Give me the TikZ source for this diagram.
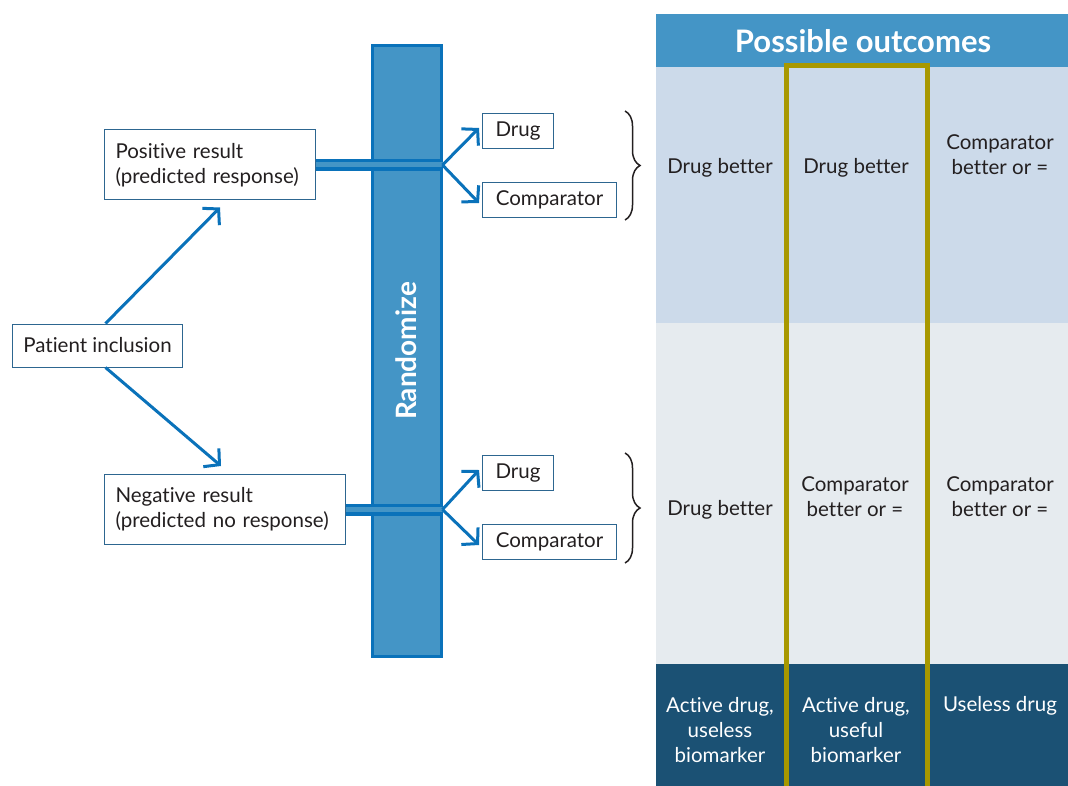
\documentclass[tikz,border=0pt]{standalone}
\usepackage{fontspec}
\setmainfont{Lato}[Ligatures=NoCommon]
\usetikzlibrary{arrows.meta,decorations.pathreplacing,positioning}
\definecolor{arrowblue}{HTML}{0A72BA}
\definecolor{barblue}{HTML}{4495C6}
\definecolor{boxline}{HTML}{2D6690}
\definecolor{rowone}{HTML}{CCDAEA}
\definecolor{rowtwo}{HTML}{E6EBEF}
\definecolor{rowdark}{HTML}{1B5174}
\definecolor{gold}{HTML}{A89800}
\definecolor{ink}{HTML}{231F20}
\begin{document}
\begin{tikzpicture}[x=1pt,y=-1pt,
    font=\fontsize{20.5}{25}\selectfont, text=ink,
    box/.style={draw=boxline, line width=1pt, fill=white, inner xsep=11pt, minimum height=35pt},
    twoline/.style={box, align=left, anchor=west, minimum height=70pt},
    bar/.style={fill=barblue, draw=arrowblue, line width=3pt, text=white,
      font=\fontsize{28}{32}\selectfont\bfseries},
    arm/.style={arrowblue, line width=3pt, -{Straight Barb[length=11pt,width=24pt]}},
    feed/.style={draw=arrowblue, double=barblue, double distance=5pt, line width=3.5pt},
    brace/.style={decorate, decoration={brace, amplitude=15pt}, line width=1.5pt, draw=ink},
    cell/.style={align=center}]
  \useasboundingbox (0,0) rectangle (1068,786);
  \fill[barblue] (656,14) rectangle (1068,67);
  \fill[rowone] (656,67) rectangle (1068,323);
  \fill[rowtwo] (656,323) rectangle (1068,664);
  \fill[rowdark] (656,664) rectangle (1068,786);
  \node[text=white, font=\fontsize{31}{34}\selectfont\bfseries] (head) at (863,41) {Possible outcomes};
  \node[cell] (c11) at (720,168) {Drug better};
  \node[cell] (c12) at (856,168) {Drug better};
  \node[cell] (c13) at (1000,155) {Comparator\\better or =};
  \node[cell] (c21) at (720,510) {Drug better};
  \node[cell] (c22) at (855,497) {Comparator\\better or =};
  \node[cell] (c23) at (1000,497) {Comparator\\better or =};
  \node[cell, text=white] (c31) at (720,730) {Active drug,\\useless\\biomarker};
  \node[cell, text=white] (c32) at (856,730) {Active drug,\\useful\\biomarker};
  \node[cell, text=white] (c33) at (1000,706) {Useless drug};
  \draw[gold, line width=5pt] (786.5,790) -- (786.5,65.5) -- (927,65.5) -- (927,790);
  \node[bar, rotate=90, minimum width=610pt, minimum height=69pt] (rand) at (406.5,351) {Randomize};
  \node[box, minimum width=169pt, minimum height=43pt] (incl) at (97.5,345.5) {Patient inclusion};
  \node[twoline, text width=189pt] (pos) at (104,165) {Positive result\\(predicted response)};
  \node[twoline, text width=219pt] (neg) at (104,509.5) {Negative result\\(predicted no response)};
  \node[box, anchor=west, minimum width=71pt] (drugA) at (482,131) {Drug};
  \node[box, anchor=west, minimum width=134pt] (compA) at (482,200) {Comparator};
  \node[box, anchor=west, minimum width=71pt] (drugB) at (482,473) {Drug};
  \node[box, anchor=west, minimum width=134pt] (compB) at (482,542) {Comparator};
  \coordinate (splitA) at (rand.south |- pos.east);
  \coordinate (splitB) at (rand.south |- neg.east);
  \draw[arm] ([xshift=8pt]incl.north) -- ([xshift=10pt,yshift=-7pt]pos.south);
  \draw[arm] ([xshift=8pt]incl.south) -- ([xshift=-4pt,yshift=8pt]neg.north);
  \draw[feed] (pos.east) -- (splitA);
  \draw[feed] (neg.east) -- (splitB);
  \draw[arm] (splitA) -- ([xshift=-3pt,yshift=3pt]drugA.west);
  \draw[arm] (splitA) -- ([xshift=-3pt,yshift=-3pt]compA.west);
  \draw[arm] (splitB) -- ([xshift=-3pt,yshift=3pt]drugB.west);
  \draw[arm] (splitB) -- ([xshift=-3pt,yshift=-3pt]compB.west);
  \draw[brace] (625,111) -- (625,220);
  \draw[brace] (625,453) -- (625,563);
\end{tikzpicture}
\end{document}
